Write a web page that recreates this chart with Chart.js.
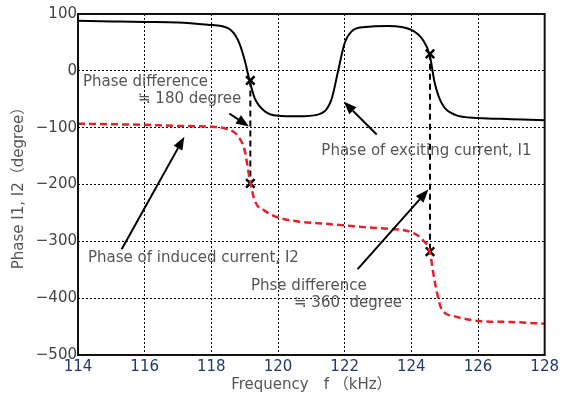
<!DOCTYPE html>
<html>
<head>
<meta charset="utf-8">
<script src="https://cdn.jsdelivr.net/npm/chart.js@4.4.1/dist/chart.umd.min.js"></script>
<style>
  body { margin: 0; background: #fff; }
  canvas { display: block; }
</style>
</head>
<body>
<canvas id="phaseChart" width="562" height="397"></canvas>
<script>
// frequency samples (kHz) shared by both curves
const freq = [114, 115, 116, 117, 117.9, 118.5, 118.8, 119.0, 119.15, 119.3, 119.6, 120, 120.6, 121.2, 121.6, 121.8, 122.0, 122.2, 122.6, 123.3, 124.0, 124.35, 124.55, 124.7, 124.9, 125.3, 126, 127, 128];

// phase of exciting current I1 (degree)
const phaseI1 = [88, 87, 86, 85, 81, 75, 54, 19, -18, -48, -71, -79, -80, -77, -51, -1, 49, 69, 77, 79, 72, 54, 28, -21, -56, -77, -83, -85, -87];

// phase of induced current I2 (degree)
const phaseI2 = [-93, -94, -95, -97, -98, -103, -115, -140, -190, -228, -246, -258, -265, -268, -270, -271, -272, -273, -275, -278, -284, -298, -318, -370, -418, -432, -440, -442, -445];

// "x" marks where the phase difference is read
const markFreq = [119.17, 119.17, 124.56, 124.56];
const markPhase = [-17, -198, 30, -318];

const xTicks = [114, 116, 118, 120, 122, 124, 126, 128];
const yTicks = [-500, -400, -300, -200, -100, 0, 100];

// annotation texts (data coordinates)
const notes = [
    { text: "Phase difference", x: 114.15, y: -19 },
    { text: "≒ 180 degree", x: 115.8, y: -49 },
    { text: "Phase of exciting current, I1", x: 121.3, y: -142 },
    { text: "Phase of induced current, I2", x: 114.3, y: -330 },
    { text: "Phse difference", x: 119.19, y: -379 },
    { text: "≒ 360  degree", x: 120.48, y: -409 }
];

const arrows = [
    { from: [118.54, -75], to: [119.13, -98] },
    { from: [122.96, -112], to: [121.97, -54] },
    { from: [115.31, -314], to: [117.19, -116] },
    { from: [122.39, -349], to: [124.51, -209] }
];

const textFont = "'DejaVu Sans', sans-serif";

function toPoints(xs, ys)
{
    return xs.map((v, i) => ({ x: v, y: ys[i] }));
}

const notePlugin = {
    id: "notes",
    afterDatasetsDraw(chart)
    {
        const { ctx, chartArea, scales: { x, y } } = chart;
        ctx.save();

        ctx.font = "15px " + textFont;
        ctx.fillStyle = "#555";
        ctx.textAlign = "left";
        ctx.textBaseline = "middle";
        notes.forEach(n => {
            ctx.fillText(n.text, x.getPixelForValue(n.x), y.getPixelForValue(n.y));
        });

        ctx.strokeStyle = "#000";
        ctx.fillStyle = "#000";
        ctx.lineWidth = 2;
        arrows.forEach(a => {
            const x1 = x.getPixelForValue(a.from[0]);
            const y1 = y.getPixelForValue(a.from[1]);
            const x2 = x.getPixelForValue(a.to[0]);
            const y2 = y.getPixelForValue(a.to[1]);
            const ang = Math.atan2(y2 - y1, x2 - x1);
            const len = 13;
            const bx = x2 - len * Math.cos(ang);
            const by = y2 - len * Math.sin(ang);
            ctx.beginPath();
            ctx.moveTo(x1, y1);
            ctx.lineTo(bx, by);
            ctx.stroke();
            ctx.beginPath();
            ctx.moveTo(x2, y2);
            ctx.lineTo(bx + 5 * Math.sin(ang), by - 5 * Math.cos(ang));
            ctx.lineTo(bx - 5 * Math.sin(ang), by + 5 * Math.cos(ang));
            ctx.closePath();
            ctx.fill();
        });

        // plot frame
        ctx.lineWidth = 2;
        ctx.strokeStyle = "#111";
        ctx.strokeRect(chartArea.left, chartArea.top,
            chartArea.right - chartArea.left, chartArea.bottom - chartArea.top);

        ctx.restore();
    }
};

const diffLines = [0, 2].map(i => ({
    data: toPoints(markFreq.slice(i, i + 2), markPhase.slice(i, i + 2)),
    borderColor: "#000",
    borderWidth: 2,
    borderDash: [6, 4],
    pointRadius: 0
}));

new Chart(document.getElementById("phaseChart"), {
    type: "line",
    data: {
        datasets: [
            {
                label: "I1",
                data: toPoints(freq, phaseI1),
                borderColor: "#000",
                borderWidth: 2,
                pointRadius: 0,
                cubicInterpolationMode: "monotone"
            },
            {
                label: "I2",
                data: toPoints(freq, phaseI2),
                borderColor: "#e8202a",
                borderWidth: 2.5,
                borderDash: [7, 4],
                pointRadius: 0,
                cubicInterpolationMode: "monotone"
            },
            ...diffLines,
            {
                label: "marks",
                data: toPoints(markFreq, markPhase),
                showLine: false,
                pointStyle: "crossRot",
                pointRadius: 6,
                pointBorderWidth: 2.5,
                pointBorderColor: "#000"
            }
        ]
    },
    options: {
        responsive: false,
        animation: false,
        layout: { padding: { top: 14, right: 15, left: 0, bottom: 0 } },
        plugins: {
            legend: { display: false },
            tooltip: { enabled: false }
        },
        scales: {
            x: {
                type: "linear",
                min: 114,
                max: 128,
                afterBuildTicks: s => { s.ticks = xTicks.map(v => ({ value: v })); },
                afterFit: s => { s.height = 42; },
                ticks: {
                    color: "#1f3a6e",
                    font: { family: textFont, size: 15 },
                    padding: 3
                },
                grid: { color: "#000", lineWidth: 1, drawTicks: false },
                border: { display: false, dash: [2, 2] },
                title: {
                    display: true,
                    text: "Frequency　f （kHz）",
                    color: "#555",
                    font: { family: textFont + ", 'Noto Sans CJK JP'", size: 15 },
                    padding: { top: 0, bottom: 3 }
                }
            },
            y: {
                min: -500,
                max: 100,
                afterBuildTicks: s => { s.ticks = yTicks.map(v => ({ value: v })); },
                afterFit: s => { s.width = 78; },
                ticks: {
                    color: "#444",
                    font: { family: textFont, size: 15 },
                    padding: 1,
                    callback: v => String(v).replace("-", "\u2212")
                },
                grid: { color: "#000", lineWidth: 1, drawTicks: false },
                border: { display: false, dash: [2, 2] },
                title: {
                    display: true,
                    text: "Phase I1, I2（degree）",
                    color: "#555",
                    font: { family: textFont + ", 'Noto Sans CJK JP'", size: 15 },
                    padding: { top: 10, bottom: 0 }
                }
            }
        }
    },
    plugins: [notePlugin]
});
</script>
</body>
</html>
